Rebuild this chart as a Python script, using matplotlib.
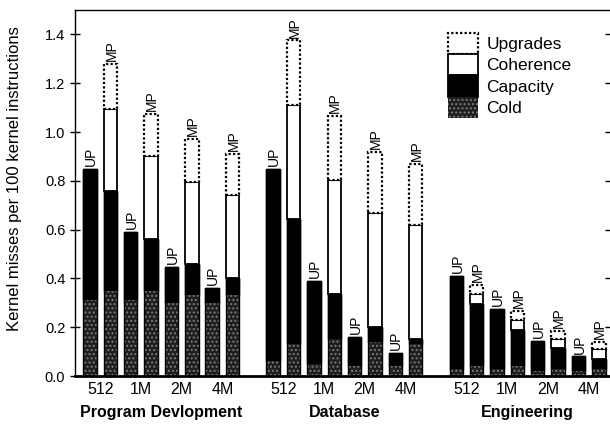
import numpy as np
import matplotlib.pyplot as plt
from matplotlib.patches import Patch

plt.rcParams['font.family'] = ['Liberation Sans', 'DejaVu Sans']
plt.rcParams['hatch.linewidth'] = 1.0

# ======================
# DATA
# ======================
groups = ["Program Devlopment", "Database", "Engineering"]
sizes = ["512", "1M", "2M", "4M"]

# 12 entries each: group x size (PD 512..4M, DB 512..4M, Eng 512..4M)
up_cold = [0.31, 0.31, 0.30, 0.30,
           0.06, 0.05, 0.04, 0.04,
           0.03, 0.03, 0.02, 0.02]
up_capacity = [0.54, 0.28, 0.145, 0.06,
               0.79, 0.34, 0.12, 0.055,
               0.38, 0.245, 0.125, 0.06]

mp_cold = [0.35, 0.35, 0.33, 0.33,
           0.13, 0.15, 0.14, 0.13,
           0.04, 0.04, 0.03, 0.03]
mp_capacity = [0.41, 0.21, 0.13, 0.07,
               0.515, 0.185, 0.06, 0.02,
               0.255, 0.15, 0.083, 0.04]
mp_coherence = [0.335, 0.34, 0.335, 0.34,
                0.465, 0.47, 0.47, 0.47,
                0.04, 0.04, 0.039, 0.039]
mp_upgrades = [0.185, 0.175, 0.175, 0.17,
               0.265, 0.26, 0.25, 0.25,
               0.04, 0.035, 0.034, 0.029]

yticks = [0.0, 0.2, 0.4, 0.6, 0.8, 1.0, 1.2, 1.4]

# ======================
# STYLES
# ======================
cold_style = dict(facecolor="#1e1e1e", edgecolor="#7a7a7a", hatch="....", linewidth=0)
cap_style = dict(facecolor="black", edgecolor="black", linewidth=1)
coh_style = dict(facecolor="white", edgecolor="black", linewidth=1.3)
upg_style = dict(facecolor="white", edgecolor="black", linewidth=1.6, linestyle=(0, (1, 1)))

width = 0.66

# ======================
# FIGURE
# ======================
fig = plt.figure(figsize=(6.10, 4.28), dpi=100)
ax = fig.add_axes([75 / 610, 1 - 376 / 428, 1 - 75 / 610, 366 / 428])

xpos_up = []
xpos_mp = []
for g in range(len(groups)):
    for s in range(len(sizes)):
        xpos_up.append(g * 9 + 2 * s)
        xpos_mp.append(g * 9 + 2 * s + 1)
xpos_up = np.array(xpos_up)
xpos_mp = np.array(xpos_mp)

up_cold = np.array(up_cold)
up_capacity = np.array(up_capacity)
mp_cold = np.array(mp_cold)
mp_capacity = np.array(mp_capacity)
mp_coherence = np.array(mp_coherence)
mp_upgrades = np.array(mp_upgrades)

# UP bars
ax.bar(xpos_up, up_capacity, width, bottom=up_cold, **cap_style)
ax.bar(xpos_up, up_cold, width, **cold_style)
ax.bar(xpos_up, up_cold + up_capacity, width, fill=False, edgecolor="black", linewidth=1)

# MP bars
b1 = mp_cold
b2 = b1 + mp_capacity
b3 = b2 + mp_coherence
ax.bar(xpos_mp, mp_capacity, width, bottom=b1, **cap_style)
ax.bar(xpos_mp, mp_coherence, width, bottom=b2, **coh_style)
ax.bar(xpos_mp, mp_upgrades, width, bottom=b3, **upg_style)
ax.bar(xpos_mp, mp_cold, width, **cold_style)
ax.bar(xpos_mp, b2, width, fill=False, edgecolor="black", linewidth=1)

# UP / MP labels
for x, h in zip(xpos_up, up_cold + up_capacity):
    ax.text(x + 0.05, h + 0.012, "UP", rotation=90, ha="center", va="bottom", fontsize=10)
for x, h in zip(xpos_mp, b3 + mp_upgrades):
    ax.text(x + 0.05, h + 0.012, "MP", rotation=90, ha="center", va="bottom", fontsize=10)

# ======================
# AXES
# ======================
ax.set_xlim(-0.74, 25.55)
ax.set_ylim(0, 1.5)

ax.set_yticks(yticks)
ax.set_yticklabels([f"{v:.1f}" for v in yticks], fontsize=10.5)
ax.tick_params(axis="y", left=True, direction="out", length=4, width=1)
ax.tick_params(axis="y", right=True, direction="inout", length=7)

ax.set_xticks((xpos_up + xpos_mp) / 2)
ax.set_xticklabels(sizes * len(groups), fontsize=11.5)
ax.tick_params(axis="x", length=0, pad=4)

ax.spines["right"].set_visible(False)
ax.spines["bottom"].set_linewidth(2)
ax.spines["left"].set_linewidth(1)
ax.spines["top"].set_linewidth(1)

ax.set_ylabel("Kernel misses per 100 kernel instructions", fontsize=12)
ax.yaxis.set_label_coords(-0.099, 0.54)

for g, name in enumerate(groups):
    ax.text(g * 9 + 3.5, -0.15, name, ha="center", va="center",
            fontsize=11.5, fontweight="bold", clip_on=False)

# ======================
# LEGEND
# ======================
handles = [
    Patch(**upg_style, label="Upgrades"),
    Patch(**coh_style, label="Coherence"),
    Patch(facecolor="black", edgecolor="black", linewidth=1.3, label="Capacity"),
    Patch(facecolor="#1e1e1e", edgecolor="#7a7a7a", hatch="....", linewidth=0, label="Cold"),
]
fig.legend(handles=handles, loc="upper left", bbox_to_anchor=(448 / 610, 1 - 33 / 428),
           frameon=False, fontsize=12.5, handlelength=1.7, handleheight=1.5,
           labelspacing=0.0, handletextpad=0.5, borderpad=0, borderaxespad=0)

fig.savefig("out.png", dpi=100)
